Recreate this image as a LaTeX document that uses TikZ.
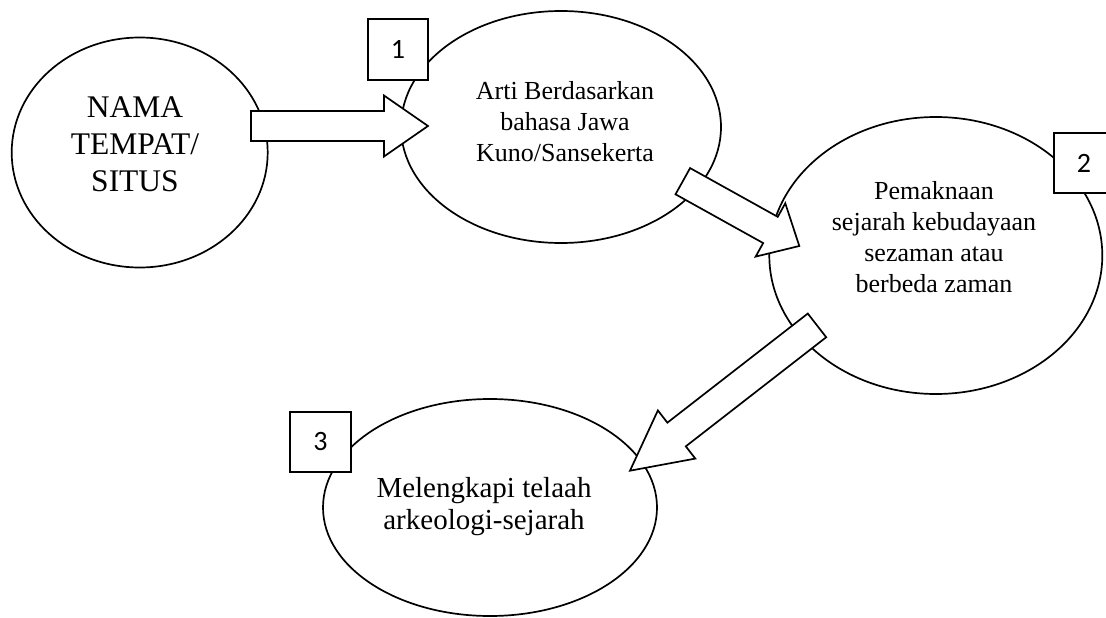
\documentclass[tikz,border=0pt]{standalone}
\usepackage{fontspec}
\setmainfont{Liberation Serif}
\newfontfamily\numfont{Carlito}
\usetikzlibrary{shapes.geometric,calc}

% Block arrow from a start point to a tip: #1 name, #2 start, #3 tip, #4 head length
\newcommand{\blockarrow}[4]{%
  \coordinate (#1-b) at ($(#3)!#4!(#2)$);
  \draw[arrowbody]
    ($(#2)!15pt!90:(#3)$) -- ($(#1-b)!15pt!90:(#3)$) --
    ($(#1-b)!30.5pt!90:(#3)$) -- (#3) --
    ($(#1-b)!30.5pt!-90:(#3)$) -- ($(#1-b)!15pt!-90:(#3)$) --
    ($(#2)!15pt!-90:(#3)$) -- cycle;
}

\tikzset{
  oval/.style={ellipse, draw=black, line width=1.7pt, fill=white, inner sep=0pt},
  numbox/.style={rectangle, draw=black, line width=1.7pt, fill=white, inner sep=0pt,
    font=\numfont\fontsize{28}{32}\selectfont},
  arrowbody/.style={draw=black, line width=1.7pt, fill=white, line join=miter},
  lbl/.style={align=center, inner sep=0pt},
}

\begin{document}
\begin{tikzpicture}[x=1pt, y=-1pt]
\useasboundingbox (0,0) rectangle (1106,618);
\clip (0,0) rectangle (1106,618);

% Ellipses
\node[oval, minimum width=256pt, minimum height=230pt] (e1) at (139.7,152.5) {};
\node[oval, minimum width=320pt, minimum height=232pt] (e2) at (561,127) {};
\node[oval, minimum width=333pt, minimum height=277pt] (e3) at (935.8,255.5) {};
\node[oval, minimum width=334pt, minimum height=217pt] (e4) at (490,507.5) {};

% Texts
\node[lbl, font=\fontsize{31.5}{37}\selectfont] (t1) at (135,144.5) {NAMA\\TEMPAT/\\SITUS};
\node[lbl, font=\fontsize{26}{31}\selectfont] (t2) at (565,122) {Arti Berdasarkan\\bahasa Jawa\\Kuno/Sansekerta};
\node[lbl, font=\fontsize{26}{31}\selectfont] (t3) at (934,236.7) {Pemaknaan\\sejarah kebudayaan\\sezaman atau\\berbeda zaman};
\node[lbl, font=\fontsize{29}{32}\selectfont] (t4) at (484,507) {Melengkapi telaah\\arkeologi-sejarah};

% Arrow end points
\coordinate (a1s) at (251,126);
\coordinate (a1t) at (428,126);
\coordinate (a2s) at (682.8,181.2);
\coordinate (a2t) at (799.3,246);
\coordinate (a3s) at (817,325.4);
\coordinate (a3t) at (630,470.7);

\blockarrow{a1}{a1s}{a1t}{44pt}
\blockarrow{a2}{a2s}{a2t}{33pt}
\blockarrow{a3}{a3s}{a3t}{59pt}

% Numbered boxes
\node[numbox, minimum width=60pt, minimum height=61pt] (b1) at (398,49.5) {1};
\node[numbox, minimum width=60pt, minimum height=60pt] (b2) at (1084,163) {2};
\node[numbox, minimum width=61pt, minimum height=60pt] (b3) at (320.5,442) {3};
\end{tikzpicture}
\end{document}
